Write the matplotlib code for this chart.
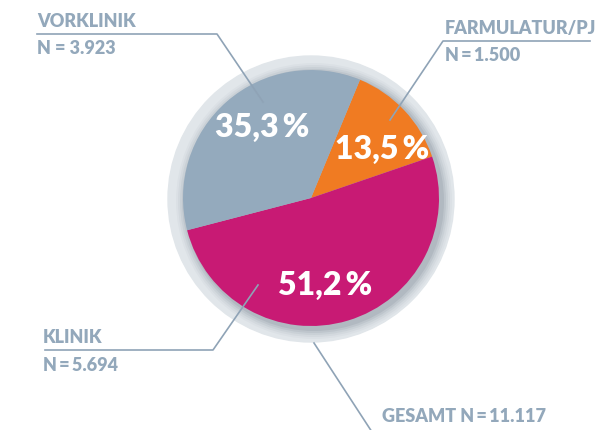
import matplotlib.pyplot as plt
from matplotlib.patches import Circle

# data
segments = ['FARMULATUR/PJ', 'KLINIK', 'VORKLINIK']
shares = [13.5, 51.2, 35.3]
counts = ['1.500', '5.694', '3.923']
total = '11.117'
colors = ['#f07b22', '#c81a74', '#94aabd']

label_col = '#93a8bb'
line_col = '#8fa3b6'
plt.rcParams['font.family'] = ['Lato', 'DejaVu Sans']

fig = plt.figure(figsize=(6.07, 4.30), dpi=100)
ax = fig.add_axes([0, 0, 1, 1])

H = 430
cx, cy, r = 311, H - 198, 128

# grey ring behind the pie, with soft shadow toward lower right
ax.add_patch(Circle((cx, cy - 1), 143, color='#e1e6ea', zorder=0))
for i, a in enumerate([0.05, 0.07, 0.09, 0.12, 0.16]):
    ax.add_patch(Circle((cx + 3, cy - 3), r + 10 - 2 * i, color='#6f7d89', alpha=a, lw=0, zorder=1))

wedges, _ = ax.pie(shares, colors=colors, startangle=67.5, counterclock=False,
                   center=(cx, cy), radius=r, wedgeprops=dict(lw=0, zorder=2))

# percentages inside the wedges
pct_pos = [(382, 149), (325, 285), (262, 127)]
for v, (x, y) in zip(shares, pct_pos):
    ax.text(x, H - y, f'{v:.1f}'.replace('.', ',') + '\u2009%', color='white', fontsize=23,
            fontweight='heavy', ha='center', va='center', zorder=5)

# callouts
kw = dict(color=label_col, fontsize=13, fontweight='heavy', zorder=5)
ax.plot([37, 217, 263], [H - 34, H - 34, H - 102], color=line_col, lw=1.2, zorder=4)
ax.text(37, H - 30, segments[2], va='bottom', **kw)
ax.text(37, H - 40, 'N = ' + counts[2], va='top', **kw)

ax.plot([590, 443, 390], [H - 41, H - 41, H - 120], color=line_col, lw=1.2, zorder=4)
ax.text(445, H - 37, segments[0], va='bottom', **kw)
ax.text(445, H - 47, 'N\u2009=\u2009' + counts[0], va='top', **kw)

ax.plot([45, 213, 258], [H - 350, H - 350, H - 285], color=line_col, lw=1.2, zorder=4)
ax.text(43, H - 346, segments[1], va='bottom', **kw)
ax.text(43, H - 357, 'N\u2009=\u2009' + counts[1], va='top', **kw)

ax.plot([314, 372], [H - 343, H - 432], color=line_col, lw=1.2, zorder=4)
ax.text(382, H - 416, 'GESAMT N\u2009=\u2009' + total, va='center', **kw)

ax.set_xlim(0, 607)
ax.set_ylim(0, H)
ax.set_aspect('equal')
ax.axis('off')

fig.savefig('out.png', dpi=100)
